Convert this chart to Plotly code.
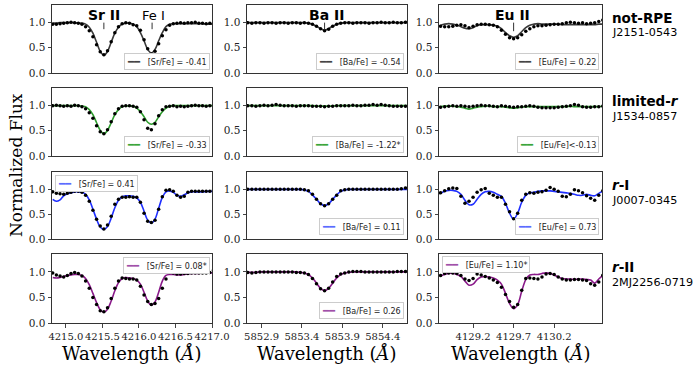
import plotly.graph_objects as go
from plotly.subplots import make_subplots as ms

W, H = 697, 366

# wavelength grids (Angstrom)
wave_sr = [4214.82, 4214.87, 4214.92, 4214.97, 4215.02, 4215.07, 4215.12, 4215.17, 4215.22, 4215.27,
           4215.32, 4215.37, 4215.42, 4215.47, 4215.52, 4215.57, 4215.62, 4215.67, 4215.72, 4215.77,
           4215.82, 4215.87, 4215.92, 4215.97, 4216.02, 4216.07, 4216.12, 4216.17, 4216.22, 4216.27,
           4216.32, 4216.37, 4216.42, 4216.47, 4216.52, 4216.57, 4216.62, 4216.67, 4216.72, 4216.77,
           4216.82, 4216.87, 4216.92, 4216.97, 4217.02]
wave_ba = [5852.73, 5852.78, 5852.83, 5852.88, 5852.93, 5852.98, 5853.03, 5853.08, 5853.13, 5853.18,
           5853.23, 5853.28, 5853.33, 5853.38, 5853.43, 5853.48, 5853.53, 5853.58, 5853.63, 5853.68,
           5853.73, 5853.78, 5853.83, 5853.88, 5853.93, 5853.98, 5854.03, 5854.08, 5854.13, 5854.18,
           5854.23, 5854.28, 5854.33, 5854.38, 5854.43, 5854.48, 5854.53, 5854.58, 5854.63, 5854.68,
           5854.73]
wave_eu = [4128.80, 4128.85, 4128.90, 4128.95, 4129.00, 4129.05, 4129.10, 4129.15, 4129.20, 4129.25,
           4129.30, 4129.35, 4129.40, 4129.45, 4129.50, 4129.55, 4129.60, 4129.65, 4129.70, 4129.75,
           4129.80, 4129.85, 4129.90, 4129.95, 4130.00, 4130.05, 4130.10, 4130.15, 4130.20, 4130.25,
           4130.30, 4130.35, 4130.40, 4130.45, 4130.50, 4130.55, 4130.60, 4130.65, 4130.70, 4130.75,
           4130.80]

# not-RPE  J2151-0543
notrpe_sr_fit = [0.99, 0.99, 1.00, 1.00, 1.00, 1.00, 1.00, 0.99, 0.99, 0.97, 0.91, 0.79, 0.61, 0.43, 0.35,
                 0.43, 0.61, 0.79, 0.91, 0.97, 0.99, 0.99, 0.97, 0.92, 0.80, 0.64, 0.47, 0.40, 0.47, 0.64,
                 0.80, 0.92, 0.97, 0.98, 0.98, 0.98, 0.98, 0.98, 0.98, 0.98, 0.98, 0.98, 0.97, 0.97, 0.97]
notrpe_sr_obs = [0.97, 0.97, 0.98, 0.99, 1.00, 1.01, 1.00, 0.99, 0.97, 0.92, 0.84, 0.72, 0.56, 0.42, 0.36,
                 0.44, 0.62, 0.80, 0.92, 0.98, 1.00, 0.99, 0.96, 0.94, 0.85, 0.66, 0.48, 0.37, 0.43, 0.58,
                 0.74, 0.86, 0.95, 0.98, 0.99, 1.00, 0.99, 1.00, 1.00, 1.01, 0.99, 0.99, 0.98, 0.99, 0.98]
notrpe_ba_fit = [1.00, 1.00, 1.00, 1.00, 1.00, 1.00, 1.00, 1.00, 1.00, 1.00, 1.00, 1.00, 1.00, 1.00, 1.00,
                 0.99, 0.97, 0.93, 0.88, 0.85, 0.88, 0.93, 0.97, 0.99, 1.00, 1.00, 1.00, 1.00, 1.00, 1.00,
                 1.00, 1.00, 1.00, 1.00, 1.00, 1.00, 1.00, 1.00, 1.00, 1.00, 1.00]
notrpe_ba_obs = [1.00, 0.99, 1.00, 1.00, 0.99, 1.00, 1.00, 0.99, 1.00, 1.00, 0.99, 1.00, 1.00, 0.99, 1.00,
                 0.99, 0.97, 0.93, 0.88, 0.84, 0.87, 0.93, 0.97, 0.99, 1.00, 1.00, 0.99, 1.00, 1.00, 1.00,
                 0.99, 1.00, 1.00, 1.01, 1.00, 1.00, 1.01, 1.00, 1.00, 1.01, 1.01]
notrpe_eu_fit = [0.95, 0.97, 0.98, 0.97, 0.95, 0.92, 0.89, 0.88, 0.90, 0.94, 0.96, 0.96, 0.96, 0.95, 0.93,
                 0.88, 0.80, 0.74, 0.71, 0.74, 0.82, 0.90, 0.95, 0.97, 0.98, 0.97, 0.97, 0.97, 0.97, 0.97,
                 0.96, 0.96, 0.96, 0.96, 0.96, 0.96, 0.96, 0.96, 0.96, 0.97, 0.97]
notrpe_eu_obs = [0.93, 0.92, 0.92, 0.93, 0.95, 0.96, 0.94, 0.90, 0.93, 0.96, 0.97, 0.97, 0.96, 0.95, 0.92,
                 0.85, 0.77, 0.70, 0.68, 0.70, 0.76, 0.83, 0.88, 0.92, 0.94, 0.94, 0.95, 0.96, 0.97, 0.97,
                 0.98, 1.00, 1.01, 1.00, 0.99, 1.00, 0.98, 0.99, 1.00, 1.02, 1.05]

# limited-r  J1534-0857
limr_sr_fit = [1.00, 1.00, 1.00, 1.00, 1.00, 1.00, 1.00, 1.00, 0.99, 0.98, 0.92, 0.82, 0.66, 0.51, 0.44,
               0.51, 0.66, 0.82, 0.92, 0.98, 0.99, 1.00, 0.99, 0.95, 0.88, 0.78, 0.67, 0.63, 0.67, 0.78,
               0.88, 0.95, 0.99, 1.00, 1.00, 1.00, 1.00, 1.00, 1.00, 1.00, 1.00, 1.00, 1.00, 1.00, 1.00]
limr_sr_obs = [1.00, 1.01, 1.00, 0.99, 1.00, 0.99, 1.01, 1.00, 0.98, 0.94, 0.86, 0.75, 0.60, 0.48, 0.44,
               0.52, 0.68, 0.84, 0.94, 0.99, 1.00, 1.00, 0.99, 0.97, 0.88, 0.72, 0.55, 0.52, 0.64, 0.80,
               0.92, 0.98, 0.99, 1.00, 0.98, 0.99, 0.98, 0.99, 1.00, 1.01, 1.00, 1.00, 0.99, 1.00, 1.00]
limr_ba_fit = [1.00, 1.00, 1.00, 1.00, 1.00, 1.00, 1.00, 1.00, 1.00, 1.00, 1.00, 1.00, 1.00, 1.00, 1.00,
               1.00, 1.00, 0.995, 0.99, 0.99, 0.99, 0.995, 1.00, 1.00, 1.00, 1.00, 1.00, 1.00, 1.00, 1.00,
               1.00, 1.00, 1.00, 1.00, 1.00, 1.00, 1.00, 1.00, 1.00, 1.00, 1.00]
limr_ba_obs = [1.00, 1.00, 0.99, 1.00, 1.01, 1.00, 1.01, 1.02, 1.01, 1.00, 1.00, 1.00, 0.99, 1.00, 1.00,
               1.00, 0.99, 0.99, 0.99, 0.98, 0.99, 0.99, 1.00, 1.00, 1.00, 1.00, 1.01, 1.00, 1.00, 1.01,
               1.01, 1.02, 1.01, 1.02, 1.01, 1.00, 0.99, 0.99, 0.99, 0.99, 0.99]
limr_eu_fit = [0.98, 0.99, 0.99, 0.99, 0.98, 0.97, 0.95, 0.93, 0.95, 0.97, 0.98, 0.99, 0.99, 0.98, 0.98,
               0.98, 0.97, 0.96, 0.95, 0.96, 0.97, 0.98, 0.98, 0.98, 0.98, 0.98, 0.98, 0.98, 0.98, 0.98,
               0.98, 0.98, 0.99, 0.98, 0.98, 0.98, 0.98, 0.98, 0.98, 0.98, 0.99]
limr_eu_obs = [0.97, 0.98, 0.99, 1.00, 0.99, 1.00, 0.99, 0.98, 0.99, 1.00, 1.01, 1.00, 1.00, 0.99, 0.98,
               1.00, 0.99, 0.98, 0.97, 0.98, 0.98, 0.99, 1.00, 0.99, 0.97, 0.96, 0.96, 0.96, 0.96, 0.97,
               0.98, 0.99, 1.00, 1.02, 1.01, 0.98, 0.97, 0.97, 0.98, 0.98, 0.99]

# r-I  J0007-0345
ri_sr_fit = [0.80, 0.76, 0.79, 0.87, 0.91, 0.93, 0.95, 0.95, 0.94, 0.90, 0.79, 0.60, 0.40, 0.24, 0.19,
             0.25, 0.42, 0.63, 0.78, 0.85, 0.87, 0.87, 0.86, 0.83, 0.74, 0.56, 0.38, 0.32, 0.40, 0.62,
             0.84, 0.95, 0.97, 0.94, 0.88, 0.86, 0.89, 0.93, 0.95, 0.95, 0.95, 0.95, 0.96, 0.96, 0.96]
ri_sr_obs = [0.95, 0.92, 0.91, 0.90, 0.92, 0.94, 0.96, 0.96, 0.94, 0.88, 0.76, 0.58, 0.40, 0.26, 0.20,
             0.28, 0.46, 0.70, 0.80, 0.84, 0.84, 0.85, 0.84, 0.84, 0.74, 0.52, 0.36, 0.33, 0.38, 0.60,
             0.85, 0.98, 0.99, 0.96, 0.88, 0.84, 0.86, 0.94, 0.96, 0.96, 0.96, 0.96, 0.96, 0.96, 0.98]
ri_ba_fit = [1.00, 1.00, 1.00, 1.00, 1.00, 1.00, 1.00, 1.00, 1.00, 1.00, 1.00, 1.00, 1.00, 1.00, 0.99,
             0.96, 0.89, 0.80, 0.71, 0.67, 0.71, 0.80, 0.89, 0.96, 0.99, 1.00, 1.00, 1.00, 1.00, 1.00,
             1.00, 1.00, 1.00, 1.00, 1.00, 1.00, 1.00, 1.00, 1.00, 1.00, 1.00]
ri_ba_obs = [1.00, 1.00, 1.00, 1.00, 1.00, 1.00, 1.00, 1.00, 1.00, 1.00, 1.00, 1.00, 1.00, 1.00, 0.99,
             0.97, 0.90, 0.80, 0.71, 0.67, 0.71, 0.80, 0.88, 0.97, 0.99, 1.00, 1.00, 1.00, 1.00, 1.00,
             1.00, 1.00, 1.00, 1.00, 1.00, 1.00, 1.00, 1.00, 1.01, 1.03, 1.05]
ri_eu_fit = [0.92, 0.96, 0.98, 0.98, 0.96, 0.90, 0.78, 0.69, 0.70, 0.80, 0.90, 0.95, 0.96, 0.94, 0.90,
             0.86, 0.72, 0.52, 0.40, 0.52, 0.74, 0.88, 0.93, 0.94, 0.96, 0.97, 0.97, 0.97, 0.96, 0.95,
             0.94, 0.93, 0.92, 0.90, 0.88, 0.88, 0.90, 0.88, 0.87, 0.92, 0.96]
ri_eu_obs = [0.93, 0.97, 1.01, 1.03, 1.02, 0.86, 0.72, 0.76, 0.84, 0.94, 0.99, 1.02, 0.92, 0.88, 0.84,
             0.84, 0.70, 0.55, 0.41, 0.52, 0.78, 0.90, 0.93, 0.92, 0.94, 0.95, 0.98, 1.04, 1.00, 0.96,
             0.86, 0.85, 0.90, 0.99, 0.97, 0.93, 0.87, 0.82, 0.78, 0.88, 0.97]

# r-II  2MJ2256-0719
rii_sr_fit = [0.89, 0.88, 0.89, 0.91, 0.93, 0.94, 0.95, 0.95, 0.93, 0.87, 0.75, 0.58, 0.40, 0.26, 0.21,
              0.27, 0.43, 0.63, 0.79, 0.87, 0.89, 0.88, 0.87, 0.84, 0.76, 0.60, 0.43, 0.35, 0.41, 0.60,
              0.82, 0.93, 0.95, 0.95, 0.94, 0.94, 0.95, 0.96, 0.97, 0.97, 0.97, 0.98, 0.98, 0.98, 0.98]
rii_sr_obs = [0.98, 0.94, 0.92, 0.90, 0.93, 0.97, 0.99, 0.97, 0.92, 0.82, 0.68, 0.50, 0.36, 0.24, 0.22,
              0.30, 0.48, 0.68, 0.82, 0.88, 0.87, 0.86, 0.86, 0.84, 0.72, 0.55, 0.42, 0.36, 0.38, 0.48,
              0.68, 0.86, 0.99, 0.98, 0.96, 0.96, 0.97, 0.97, 0.98, 0.98, 0.98, 0.98, 0.98, 0.99, 1.03]
rii_ba_fit = [0.99, 0.99, 0.99, 1.00, 1.00, 1.00, 1.00, 1.00, 1.00, 1.00, 1.00, 1.00, 1.00, 0.99, 0.98,
              0.95, 0.88, 0.78, 0.68, 0.63, 0.68, 0.78, 0.88, 0.95, 0.98, 0.99, 1.00, 1.00, 1.00, 1.00,
              1.00, 1.00, 1.00, 1.00, 1.00, 1.00, 1.00, 1.00, 1.00, 1.00, 1.00]
rii_ba_obs = [0.99, 0.98, 0.99, 1.00, 1.00, 1.00, 1.00, 1.00, 1.00, 1.00, 1.00, 1.00, 0.99, 0.99, 0.98,
              0.95, 0.87, 0.77, 0.67, 0.63, 0.68, 0.80, 0.91, 0.96, 0.98, 1.00, 1.01, 1.01, 1.01, 1.00,
              1.00, 1.00, 1.00, 1.00, 1.00, 1.00, 1.00, 1.01, 1.01, 1.01, 1.01]
rii_eu_fit = [0.92, 0.95, 0.97, 0.97, 0.95, 0.91, 0.82, 0.74, 0.76, 0.85, 0.90, 0.91, 0.90, 0.88, 0.84,
              0.76, 0.58, 0.38, 0.28, 0.36, 0.62, 0.85, 0.94, 0.95, 0.95, 0.97, 0.98, 0.97, 0.94, 0.90,
              0.87, 0.86, 0.86, 0.85, 0.86, 0.86, 0.85, 0.84, 0.78, 0.86, 0.93]
rii_eu_obs = [0.93, 0.97, 0.98, 0.98, 0.97, 0.93, 0.86, 0.83, 0.87, 0.96, 0.94, 0.91, 0.88, 0.84, 0.79,
              0.70, 0.56, 0.42, 0.31, 0.36, 0.64, 0.87, 0.88, 0.87, 0.86, 0.90, 0.96, 0.97, 0.95, 0.90,
              0.86, 0.84, 0.84, 0.85, 0.85, 0.84, 0.83, 0.77, 0.74, 0.80, 0.93]

star_names = ['J2151-0543', 'J1534-0857', 'J0007-0345', '2MJ2256-0719']
star_labels = ['<b>not-RPE</b>', '<b>limited-<i>r</i></b>', '<b><i>r</i>-I</b>', '<b><i>r</i>-II</b>']
row_colors = ['#3a3a3a', '#2e9e2e', '#1f2fff', '#8a1a8a']
legend_colors = ['#444444', '#3aa53a', '#5a6cff', '#a050a8']

sr_labels = ['[Sr/Fe] = -0.41', '[Sr/Fe] = -0.33', '[Sr/Fe] = 0.41', '[Sr/Fe] = 0.08*']
ba_labels = ['[Ba/Fe] = -0.54', '[Ba/Fe] = -1.22*', '[Ba/Fe] = 0.11', '[Ba/Fe] = 0.26']
eu_labels = ['[Eu/Fe] = 0.22', '[Eu/Fe]<-0.13', '[Eu/Fe] = 0.73', '[Eu/Fe] = 1.10*']

waves = [wave_sr, wave_ba, wave_eu]
fits = [[notrpe_sr_fit, notrpe_ba_fit, notrpe_eu_fit],
        [limr_sr_fit, limr_ba_fit, limr_eu_fit],
        [ri_sr_fit, ri_ba_fit, ri_eu_fit],
        [rii_sr_fit, rii_ba_fit, rii_eu_fit]]
obs = [[notrpe_sr_obs, notrpe_ba_obs, notrpe_eu_obs],
       [limr_sr_obs, limr_ba_obs, limr_eu_obs],
       [ri_sr_obs, ri_ba_obs, ri_eu_obs],
       [rii_sr_obs, rii_ba_obs, rii_eu_obs]]
labels = [[sr_labels[i], ba_labels[i], eu_labels[i]] for i in range(4)]

x_ranges = [[4214.81, 4217.0], [5852.72, 5854.70], [4128.78, 4130.79]]
x_ticks = [[4215.0, 4215.5, 4216.0, 4216.5, 4217.0],
           [5852.9, 5853.4, 5853.9, 5854.4],
           [4129.2, 4129.7, 4130.2]]


def px(x):
    return x / W


def py(y):
    return 1 - y / H


col_px = [(52, 212), (247, 407), (439, 602)]
row_px = [(5, 73), (88, 156), (172, 239), (254, 323)]

# legend box anchors: (x px, y px, xanchor, yanchor)
leg_pos = [[(210, 70, 'right', 'bottom'), (404, 70, 'right', 'bottom'), (599, 70, 'right', 'bottom')],
           [(210, 153, 'right', 'bottom'), (404, 153, 'right', 'bottom'), (599, 153, 'right', 'bottom')],
           [(55, 175, 'left', 'top'), (404, 235, 'right', 'bottom'), (599, 235, 'right', 'bottom')],
           [(210, 257, 'right', 'top'), (404, 319, 'right', 'bottom'), (442, 256, 'left', 'top')]]

fig = ms(rows=4, cols=3)
annotations = []
shapes = []

for r in range(4):
    for c in range(3):
        fig.add_trace(go.Scatter(
            x=waves[c], y=fits[r][c], mode='lines', line_shape='spline',
            line=dict(color=row_colors[r], width=1.6), showlegend=False), row=r + 1, col=c + 1)
        fig.add_trace(go.Scatter(
            x=waves[c], y=obs[r][c], mode='markers',
            marker=dict(color='black', size=3.5), showlegend=False), row=r + 1, col=c + 1)

        n = r * 3 + c + 1
        sx = '' if n == 1 else str(n)
        bottom = r == 3
        fig.update_layout({
            'xaxis' + sx: dict(
                domain=[px(col_px[c][0]), px(col_px[c][1])], range=x_ranges[c], automargin=False,
                tickvals=x_ticks[c], ticktext=['%.1f' % v for v in x_ticks[c]],
                showticklabels=bottom, ticks='outside' if bottom else '', ticklen=3.5,
                tickangle=0, showgrid=False, zeroline=False, showline=True, mirror=True,
                linecolor='#333333', linewidth=1,
                tickfont=dict(family='DejaVu Serif', size=10, color='#222222')),
            'yaxis' + sx: dict(
                domain=[py(row_px[r][1]), py(row_px[r][0])], range=[0, 1.35], automargin=False,
                tickvals=[0, 0.5, 1.0], ticktext=['0.0', '0.5', '1.0'],
                ticks='outside', ticklen=3.5, showgrid=False, zeroline=False,
                showline=True, mirror=True, linecolor='#333333', linewidth=1,
                tickfont=dict(family='DejaVu Serif', size=10.5, color='#222222')),
        })

        lx, ly, xa, ya = leg_pos[r][c]
        annotations.append(dict(
            x=px(lx), y=py(ly), xref='paper', yref='paper', xanchor=xa, yanchor=ya,
            text="<span style='color:%s;font-size:10px'>━━</span>   %s" % (legend_colors[r], labels[r][c]),
            showarrow=False, bgcolor='white', bordercolor='#cccccc', borderwidth=1, borderpad=2,
            font=dict(family='DejaVu Sans', size=8, color='#222222')))

    annotations.append(dict(
        x=px(610), y=py(row_px[r][0] + 13), xref='paper', yref='paper', xanchor='left', yanchor='middle',
        text=star_labels[r], showarrow=False,
        font=dict(family='DejaVu Sans', size=13.5, color='black')))
    annotations.append(dict(
        x=px(610), y=py(row_px[r][0] + 28), xref='paper', yref='paper', xanchor='left', yanchor='middle',
        text=star_names[r], showarrow=False,
        font=dict(family='DejaVu Sans', size=11.2, color='black')))

# line identifications in the top row
for txt, xp, size, ax, wl, y0 in [('<b>Sr II</b>', 104, 14, 'x', 4215.52, 0.87),
                                  ('Fe I', 153, 13, 'x', 4216.18, 0.87),
                                  ('<b>Ba II</b>', 326, 14, 'x2', 5853.68, 0.86),
                                  ('<b>Eu II</b>', 512, 14, 'x3', 4129.70, 0.83)]:
    annotations.append(dict(
        x=px(xp), y=py(15), xref='paper', yref='paper', xanchor='center', yanchor='middle',
        text=txt, showarrow=False,
        font=dict(family='DejaVu Sans', size=size, color='black')))
    shapes.append(dict(type='line', xref=ax, yref='y' + ax[1:], x0=wl, x1=wl, y0=y0, y1=1.0,
                       line=dict(color='#333333', width=1)))

for c in range(3):
    annotations.append(dict(
        x=px((col_px[c][0] + col_px[c][1]) / 2), y=py(353), xref='paper', yref='paper',
        xanchor='center', yanchor='middle', text='Wavelength (<i>Å</i>)', showarrow=False,
        font=dict(family='DejaVu Serif', size=18, color='black')))

annotations.append(dict(
    x=px(16), y=py(165), xref='paper', yref='paper', xanchor='center', yanchor='middle',
    text='Normalized Flux', textangle=-90,
    showarrow=False, font=dict(family='DejaVu Serif', size=17, color='black')))

fig.update_layout(
    width=W, height=H, margin=dict(l=0, r=0, t=0, b=0),
    plot_bgcolor='white', paper_bgcolor='white',
    annotations=annotations, shapes=shapes, showlegend=False)

# drop the browser's default body margin so the figure sits at the window origin
fig.write_html("out.html", config={'displayModeBar': False},
               post_script="document.body.style.margin = '0px';")
